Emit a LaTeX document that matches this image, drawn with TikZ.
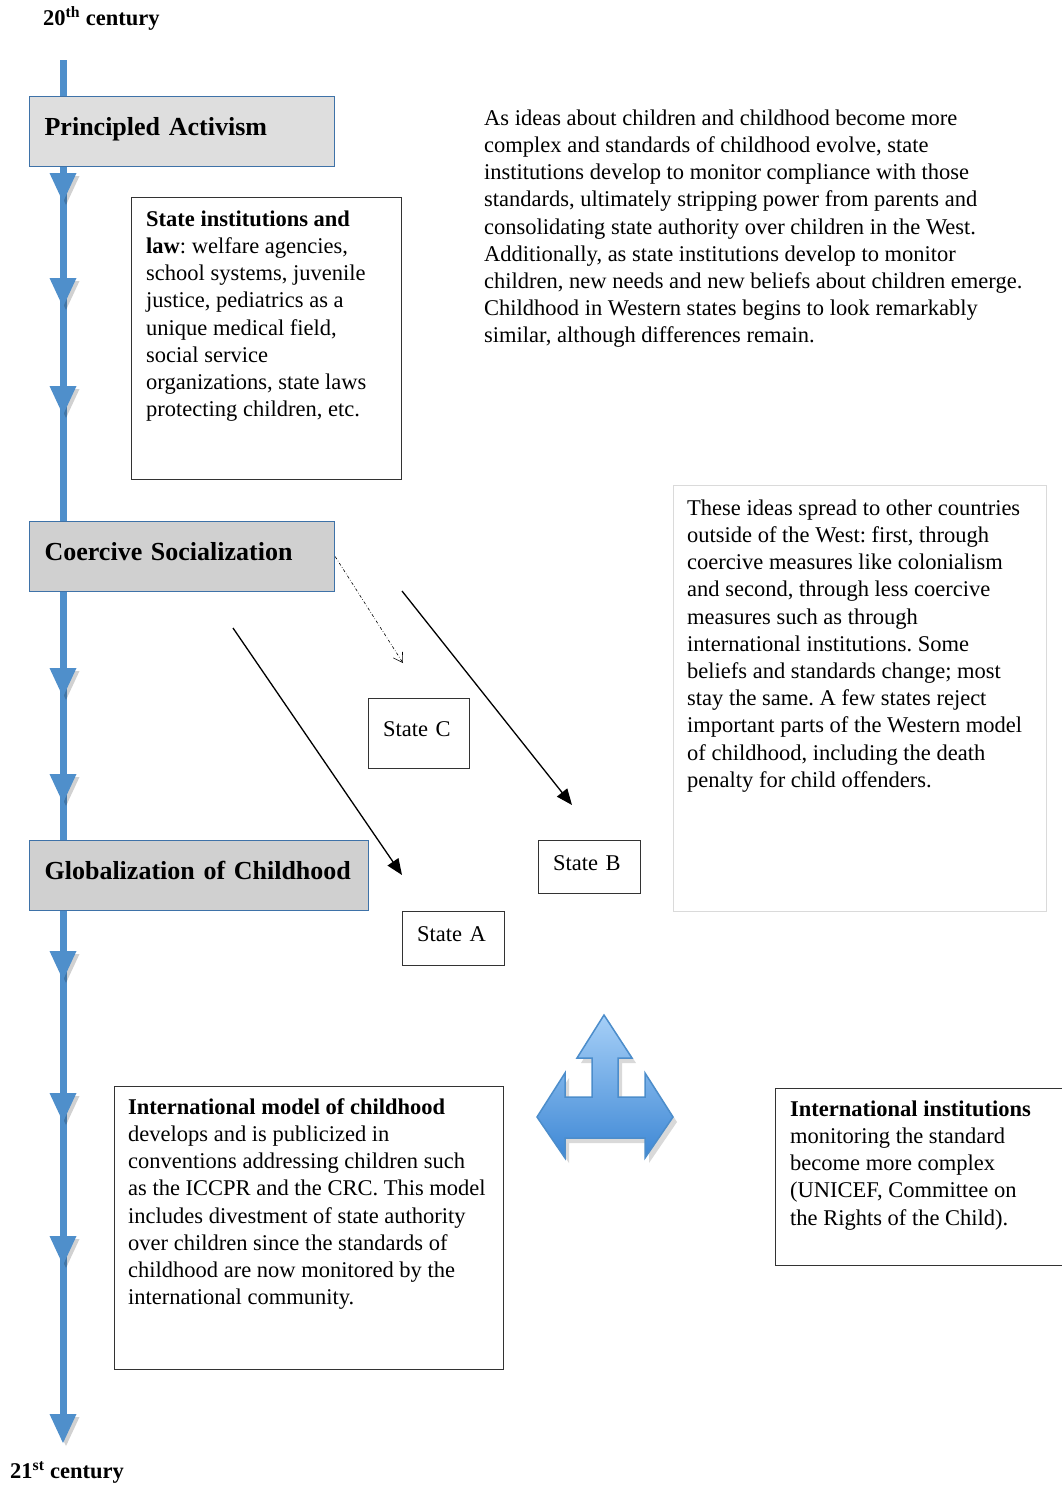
\documentclass[tikz,border=0pt]{standalone}
\usepackage{fontspec}
\setmainfont{Liberation Serif}
\usetikzlibrary{arrows.meta}
\frenchspacing
\definecolor{tlblue}{RGB}{79,143,203}
\definecolor{bxblue}{RGB}{62,114,168}
\definecolor{hdgrayA}{RGB}{222,222,222}
\definecolor{hdgrayB}{RGB}{208,208,208}
\definecolor{boxline}{RGB}{51,51,51}
\definecolor{lightline}{RGB}{218,218,218}
\definecolor{arrtop}{RGB}{166,207,247}
\definecolor{arrbot}{RGB}{62,136,213}
\definecolor{arrline}{RGB}{76,141,203}
\newcommand\bodyfont{\fontsize{22.5}{27.2}\selectfont}
\newcommand\headfont{\fontsize{26}{30}\selectfont\bfseries}
\newcommand\titlefont{\fontsize{22.5}{27}\selectfont\bfseries}
\tikzset{
  tl/.style={draw=tlblue, line width=7pt},
  headbox/.style={draw=bxblue, line width=1.2pt, anchor=north west, inner xsep=15pt, align=left,
    font=\headfont, minimum height=70pt, text height=16pt, text depth=8pt},
  plainbox/.style={draw=boxline, line width=1.2pt, anchor=north west, inner sep=0pt},
  statebox/.style={draw=boxline, line width=1.2pt, anchor=north west, inner xsep=14.5pt, align=left,
    font=\bodyfont, text height=15pt, text depth=9pt},
  bodytext/.style={anchor=north west, inner sep=0pt, align=left, font=\bodyfont},
  conn/.style={line width=1.3pt, -{Triangle[length=16pt,width=13pt]}},
}
\begin{document}
\begin{tikzpicture}[x=1pt,y=-1pt]
\useasboundingbox (0,0) rectangle (1061,1486);

% titles
\node[anchor=base west, inner sep=0pt, font=\titlefont] (t20) at (43,25) {20\textsuperscript{th} century};
\node[anchor=base west, inner sep=0pt, font=\titlefont] (t21) at (10,1478) {21\textsuperscript{st} century};

% heading boxes
\node[headbox, fill=hdgrayA, text width=275pt] (pa) at (29,96) {Principled Activism};
\node[headbox, fill=hdgrayB, text width=275pt] (cs) at (29,521) {Coercive Socialization};
\node[headbox, fill=hdgrayB, text width=309pt] (gc) at (29,840) {Globalization of Childhood};

% timeline
\coordinate (tltop) at (63,60);
\coordinate (tlend) at (63,1430);
\draw[tl] (tltop) -- (tltop |- pa.north);
\draw[tl] (tltop |- pa.south) -- (tltop |- cs.north);
\draw[tl] (tltop |- cs.south) -- (tltop |- gc.north);
\draw[tl] (tltop |- gc.south) -- (tlend);
\foreach \ty in {202,307,415,697,803,980,1122,1265,1443}{
  \fill[black, opacity=0.18] (52.5,\ty-26) -- (79.5,\ty-26) -- (66,\ty+3) -- cycle;
  \fill[tlblue] (49.5,\ty-29) -- (76.5,\ty-29) -- (63,\ty) -- cycle;
}

% State institutions box
\node[plainbox, minimum width=270pt, minimum height=282pt] (sib) at (131,197) {};
\node[bodytext] (sit) at (146,207) {\strut\textbf{State institutions and}\\
\textbf{law}: welfare agencies,\\
school systems, juvenile\\
justice, pediatrics as a\\
unique medical field,\\
social service\\
organizations, state laws\\
protecting children, etc.};

% top right text
\node[bodytext] (trt) at (484,106) {\strut As ideas about children and childhood become more\\
complex and standards of childhood evolve, state\\
institutions develop to monitor compliance with those\\
standards, ultimately stripping power from parents and\\
consolidating state authority over children in the West.\\
Additionally, as state institutions develop to monitor\\
children, new needs and new beliefs about children emerge.\\
Childhood in Western states begins to look remarkably\\
similar, although differences remain.};

% right middle box
\node[draw=lightline, line width=1pt, anchor=north west, inner sep=0pt, minimum width=373pt, minimum height=426pt] (rmb) at (673,485) {};
\node[bodytext] (rmt) at (687,496) {\strut These ideas spread to other countries\\
outside of the West: first, through\\
coercive measures like colonialism\\
and second, through less coercive\\
measures such as through\\
international institutions. Some\\
beliefs and standards change; most\\
stay the same. A few states reject\\
important parts of the Western model\\
of childhood, including the death\\
penalty for child offenders.};

% state boxes
\node[statebox, text width=72pt, minimum height=70pt] (sc) at (368,698) {State C};
\node[statebox, text width=73pt, minimum height=53pt] (sb) at (538,840) {State B};
\node[statebox, text width=73pt, minimum height=54pt] (sa) at (402,911) {State A};

% connectors
\coordinate (dcend) at (403,663);
\draw[line width=0.6pt, dash dot, -{Straight Barb[length=9pt,width=11pt]}] (cs.east) -- (dcend);
\coordinate (aAstart) at (233,628);
\coordinate (aAend) at (402,875);
\draw[conn] (aAstart) -- (aAend);
\coordinate (aBstart) at (402,591);
\coordinate (aBend) at (572,805);
\draw[conn] (aBstart) -- (aBend);

% three-way arrow
\begin{scope}[shift={(4,5)}]
\fill[black, opacity=0.15] (604,1015) -- (632,1058) -- (618,1058) -- (618,1097) -- (645,1097) -- (645,1073) -- (673,1117) -- (645,1158) -- (645,1138) -- (565,1138) -- (565,1158) -- (537,1117) -- (565,1073) -- (565,1097) -- (592,1097) -- (592,1058) -- (577,1058) -- cycle;
\end{scope}
\shade[top color=arrtop, bottom color=arrbot, draw=arrline, line width=1.5pt, line join=miter]
 (604,1015) -- (632,1058) -- (618,1058) -- (618,1097) -- (645,1097) -- (645,1073) -- (673,1117) -- (645,1158) -- (645,1138) -- (565,1138) -- (565,1158) -- (537,1117) -- (565,1073) -- (565,1097) -- (592,1097) -- (592,1058) -- (577,1058) -- cycle;

% international model box
\node[plainbox, minimum width=389pt, minimum height=283pt] (imb) at (114,1086) {};
\node[bodytext] (imt) at (128,1095) {\strut\textbf{International model of childhood}\\
develops and is publicized in\\
conventions addressing children such\\
as the ICCPR and the CRC. This model\\
includes divestment of state authority\\
over children since the standards of\\
childhood are now monitored by the\\
international community.};

% international institutions box
\node[plainbox, minimum width=292pt, minimum height=177pt] (iib) at (775,1088) {};
\node[bodytext] (iit) at (790,1097) {\strut\textbf{International institutions}\\
monitoring the standard\\
become more complex\\
(UNICEF, Committee on\\
the Rights of the Child).};
\end{tikzpicture}
\end{document}
